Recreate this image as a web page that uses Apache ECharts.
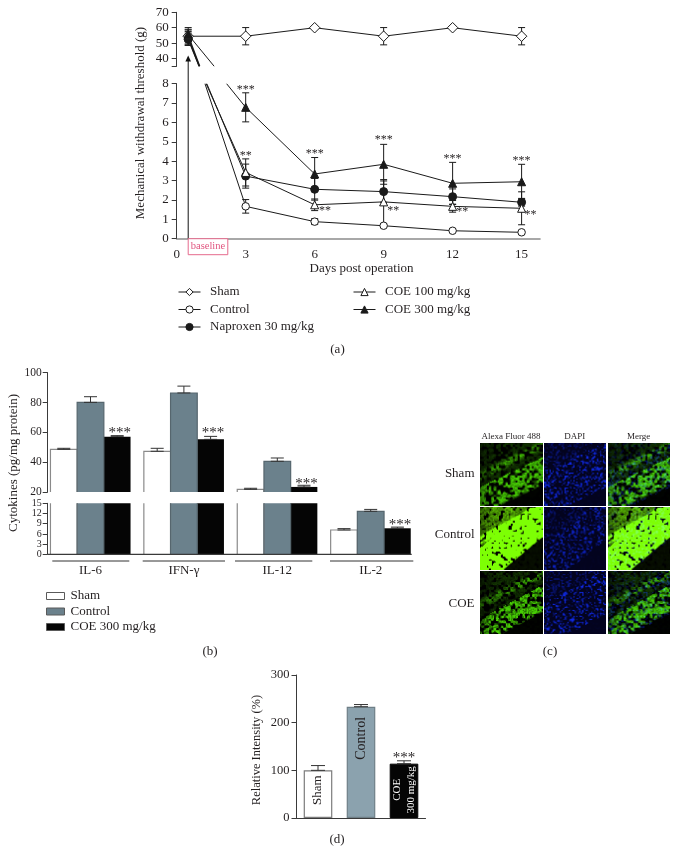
<!DOCTYPE html>
<html><head><meta charset="utf-8">
<style>html,body{margin:0;padding:0;background:#fff}#c{width:680px;height:866px}</style>
<script src="https://cdn.jsdelivr.net/npm/echarts@6/dist/echarts.min.js"></script>
</head><body><div id="c"></div>
<script>
// ---------- data: panel (a) ----------
const aXTicks=[0,3,6,9,12,15];
const aUpperLabels=[40,50,60,70];
const aUpperTicks=[35,40,50,60,70];
const days=[3,6,9,12,15];
const baselineDay=0.5;
const shamVals=[54.5,60,54.5,60,54.5];
const shamErr=[5.6,0,5.6,0,5.6];
const controlVals=[1.67,0.88,0.67,0.41,0.33];
const controlErr=[0.35,0.15,0.05,0.03,0.04];
const naproxenVals=[3.23,2.55,2.43,2.17,1.88];
const naproxenErr=[0.62,0.56,0.55,0.4,0.2];
const coe100Vals=[3.42,1.75,1.9,1.67,1.57];
const coe100Err=[0.7,0.3,1.15,0.3,0.85];
const coe300Vals=[6.78,3.34,3.84,2.86,2.94];
const coe300Err=[0.75,0.85,1.03,1.08,0.9];
const baselineVals={sham:54.5,control:53.5,naproxen:52.5,coe100:55,coe300:55.5};
const baselineErr={sham:5.6,control:4,naproxen:4,coe100:4,coe300:3};
// where each falling line leaves the upper panel (y=35) and enters the lower one (y=8)
const upperExitDay={control:0.98,naproxen:0.98,coe100:1.0,coe300:1.63};
const lowerEntryDay={control:1.23,naproxen:1.31,coe100:1.28,coe300:2.17};
const aUpperFloor=35, aLowerCeil=8;
const starsA=[[3,7.72,'***'],[3,4.3,'**'],[6,4.4,'***'],[9,5.12,'***'],[12,4.14,'***'],[15,4.04,'***'],
 [6.45,1.45,'**'],[9.42,1.45,'**'],[12.42,1.4,'**'],[15.39,1.25,'**']];
const aNames=['Sham','Control','Naproxen 30 mg/kg','COE 100 mg/kg','COE 300 mg/kg'];

// ---------- data: panel (b) ----------
const cytokines=['IL-6','IFN-γ','IL-12','IL-2'];
const bNames=['Sham ','Control ','COE 300 mg/kg '];
const bSham=[48.6,47.3,21.8,7.15];
const bShamTop=[49.3,49.3,22.5,7.55];
const bControl=[80.1,86.4,40.6,12.65];
const bControlTop=[83.9,91,42.8,13.2];
const bCoe=[57.1,55.3,23.4,7.65];
const bCoeTop=[57.8,57.3,24.5,8];
const starsBUpper=[[0,61.6],[1,61.6],[2,27.2]];
const starsBLower=[[3,9.6]];

// ---------- data: panel (d) ----------
const dCats=['Sham','Control','COE\n300 mg/kg'];
const dVals=[100,233.5,114];
const dTop=[110,238,120];
const starsD=[[2,132]];

// ---------- colours / helpers ----------
const INK='#231f20', AX='#3a3a3a', GREY='#6b818c', GREYD='#8ba2ae', FONT='Liberation Serif';
const txt=(s)=>({color:INK,fontFamily:FONT,fontSize:s});
const cap=(xi,yi,data,half,color,w)=>({type:'custom',xAxisIndex:xi,yAxisIndex:yi,silent:true,z:3,
  encode:{x:0,y:[1,2]},data,
  renderItem(p,api){
    const off=api.value(3)||0, a=api.coord([api.value(0),api.value(1)]), b=api.coord([api.value(0),api.value(2)]);
    const x=a[0]+off, st={stroke:color,lineWidth:w};
    return {type:'group',children:[
      {type:'line',shape:{x1:x,y1:a[1],x2:x,y2:b[1]},style:st},
      {type:'line',shape:{x1:x-half,y1:b[1],x2:x+half,y2:b[1]},style:st},
      {type:'line',shape:{x1:x-half,y1:a[1],x2:x+half,y2:a[1]},style:st}]};
  }});
// open-bottom bar outline, clipped by the panel so broken bars stay open at the axis break
const outline=(xi,yi,data,halfW,color,w)=>({type:'custom',xAxisIndex:xi,yAxisIndex:yi,silent:true,z:3,clip:true,
  encode:{x:0,y:[1,2]},data,
  renderItem(p,api){
    const off=api.value(3)||0, a=api.coord([api.value(0),api.value(1)]), b=api.coord([api.value(0),api.value(2)]);
    const x=a[0]+off;
    return {type:'polyline',shape:{points:[[x-halfW,a[1]],[x-halfW,b[1]],[x+halfW,b[1]],[x+halfW,a[1]]]},style:{stroke:color,lineWidth:w,fill:null}};
  }});
const stars=(xi,yi,data,size,off,xoff)=>({type:'custom',xAxisIndex:xi,yAxisIndex:yi,silent:true,z:6,clip:false,
  encode:{x:0,y:1},data:data.map(d=>[d[0],d[1],d[2]||'***']),
  renderItem(p,api){
    const c=api.coord([api.value(0),api.value(1)]);
    return {type:'text',style:{text:String(api.value(2)),x:c[0]+(xoff||0),y:c[1]+(off||0),align:'center',verticalAlign:'middle',
      fill:INK,font:size+'px "'+FONT+'"'}};
  },dimensions:['x','y',{name:'t',type:'ordinal'}]});
const LC='#1a1a1a';
const sym={sham:['diamond',10.5,'#fff'],control:['circle',7.5,'#fff'],naproxen:['circle',8,LC],coe100:['triangle',8,'#fff'],coe300:['triangle',8,LC]};
const lineS=(name,key,xi,yi,data,w)=>({type:'line',name,xAxisIndex:xi,yAxisIndex:yi,data,z:4,
  symbol:sym[key][0],symbolSize:sym[key][1],showAllSymbol:true,
  lineStyle:{color:LC,width:w||1},itemStyle:{color:sym[key][2],borderColor:LC,borderWidth:1}});
const hidden=(p)=>({value:p,symbol:'none'});
const zipErr=(xs,v,e)=>xs.map((x,i)=>[x,v[i]-e[i],v[i]+e[i]]);

const keys=['sham','control','naproxen','coe100','coe300'];
const lowerVals={control:controlVals,naproxen:naproxenVals,coe100:coe100Vals,coe300:coe300Vals};
const lowerErr={control:controlErr,naproxen:naproxenErr,coe100:coe100Err,coe300:coe300Err};

const series=[];
// (a) upper panel
series.push(lineS(aNames[0],'sham',0,0,[[baselineDay,baselineVals.sham]].concat(days.map((d,i)=>[d,shamVals[i]]))));
['control','naproxen','coe100','coe300'].forEach(k=>{
  series.push(lineS(aNames[keys.indexOf(k)],k,0,0,[[baselineDay,baselineVals[k]],hidden([upperExitDay[k],aUpperFloor])],k==='coe300'?1:1.3));
});
keys.forEach(k=>series.push(cap(0,0,[[baselineDay,baselineVals[k]-baselineErr[k],baselineVals[k]+baselineErr[k]]],3.5,LC,1)));
series.push(cap(0,0,zipErr(days,shamVals,shamErr).filter(d=>d[1]!==d[2]),3.5,LC,1));
// (a) lower panel
['control','naproxen','coe100','coe300'].forEach(k=>{
  series.push(lineS(aNames[keys.indexOf(k)],k,1,1,[hidden([lowerEntryDay[k],aLowerCeil])].concat(days.map((d,i)=>[d,lowerVals[k][i]]))));
  series.push(cap(1,1,zipErr(days,lowerVals[k],lowerErr[k]),3.5,LC,1));
});
series.push(stars(1,1,starsA,12,0.5));

// (b)
const bw=26.7;
const bFill=['#fff',GREY,'#050505'];
[bSham,bControl,bCoe].forEach((v,i)=>{
  series.push({type:'bar',name:bNames[i],xAxisIndex:2,yAxisIndex:2,data:v.map((y,j)=>j===3?null:y),barWidth:bw,barGap:0,itemStyle:{color:bFill[i],borderWidth:0},z:2,clip:true});
});
[bSham,bControl,bCoe].forEach((v,i)=>{
  series.push({type:'bar',name:bNames[i],xAxisIndex:3,yAxisIndex:3,data:v,barWidth:bw,barGap:0,itemStyle:{color:bFill[i],borderWidth:0},z:2,clip:true});
});
const outlineColor=['#8a8a8a','#56666e'];
[[bSham,0,20],[bControl,1,20]].forEach(t=>{
  const off=(t[1]-1)*bw;
  series.push(outline(2,2,t[0].map((y,j)=>[j,20,y,off]).filter(r=>r[0]!==3),bw/2,outlineColor[t[1]],1.2));
  series.push(outline(3,3,t[0].map((y,j)=>[j,0,y,off]),bw/2,outlineColor[t[1]],1.2));
});
[[bSham,bShamTop],[bControl,bControlTop],[bCoe,bCoeTop]].forEach((pair,i)=>{
  const off=(i-1)*bw;
  const rows=pair[0].map((y,j)=>[j,y,pair[1][j],off]);
  series.push(cap(2,2,rows.filter(r=>r[0]!==3),6.5,'#333',1));
  series.push(cap(3,3,rows.filter(r=>r[0]===3),6.5,'#333',1));
});
series.push(stars(2,2,starsBUpper,15,3,bw+2.5));
series.push(stars(3,3,starsBLower,15,3,bw+2.5));

// (d)
const dColors=[{color:'#fff',borderColor:'#7c7c7c',borderWidth:1.2},{color:GREYD,borderColor:'#6f7f87',borderWidth:1.2},{color:'#050505',borderColor:'#050505',borderWidth:1}];
const dLabel=[{color:INK,fontSize:13,offset:[4,0]},{color:INK,fontSize:14,offset:[24,0]},{color:'#fff',fontSize:11,lineHeight:14,offset:[1,0]}];
series.push({type:'bar',xAxisIndex:4,yAxisIndex:4,barWidth:28.6,z:2,
  data:dVals.map((v,i)=>({value:v,itemStyle:dColors[i],label:dLabel[i]})),
  label:{show:true,position:'inside',rotate:90,fontFamily:FONT,formatter:p=>dCats[p.dataIndex]}});
series.push(cap(4,4,dVals.map((v,i)=>[i,v,dTop[i],0]),7,'#333',1));
series.push(stars(4,4,starsD,15,3));

// ---------- axes ----------
const axLine={lineStyle:{color:AX,width:1}};
const tick={length:5,lineStyle:{color:AX,width:1}};
const grid=[
 {left:176.7,top:12.3,width:363.3,height:54},
 {left:176.7,top:83.7,width:363.3,height:155},
 {left:43.8,top:372.7,width:373.6,height:119.3},
 {left:43.8,top:503.3,width:373.6,height:51},
 {left:296.5,top:675,width:129,height:143}
];
const xAxis=[
 {gridIndex:0,type:'value',min:0,max:15.8,show:false},
 {gridIndex:1,type:'value',min:0,max:15.8,splitLine:{show:false},
  axisLine:{lineStyle:{color:'#8c8c8c',width:1.6}},axisTick:{show:false,customValues:aXTicks},
  axisLabel:Object.assign(txt(13),{customValues:aXTicks,margin:9})},
 {gridIndex:2,type:'category',data:cytokines,show:false},
 {gridIndex:3,type:'category',data:cytokines,axisTick:{show:false},axisLine:{show:false},
  axisLabel:Object.assign(txt(13),{margin:10})},
 {gridIndex:4,type:'category',data:dCats,axisTick:{show:false},axisLabel:{show:false},axisLine:{lineStyle:{color:AX,width:1.2}}}
];
const yBase={type:'value',splitLine:{show:false},axisLine:Object.assign({show:true},axLine),axisTick:Object.assign({show:true},tick)};
const showAll={showMinLabel:true,showMaxLabel:true,hideOverlap:false};
const yAxis=[
 Object.assign({},yBase,{gridIndex:0,min:35,max:70,axisTick:Object.assign({},yBase.axisTick,{customValues:aUpperTicks}),
   axisLabel:Object.assign(txt(13),showAll,{customValues:aUpperLabels,margin:8})}),
 Object.assign({},yBase,{gridIndex:1,min:0,max:8,interval:1,axisLabel:Object.assign(txt(13),showAll,{margin:8})}),
 Object.assign({},yBase,{gridIndex:2,min:20,max:100,interval:20,offset:-3.9,axisLabel:Object.assign(txt(11.5),showAll,{margin:6})}),
 Object.assign({},yBase,{gridIndex:3,min:0,max:15,interval:3,offset:-3.9,axisLabel:Object.assign(txt(10),showAll,{margin:6,lineHeight:8,hideOverlap:false})}),
 Object.assign({},yBase,{gridIndex:4,min:0,max:300,interval:100,offset:0,axisLabel:Object.assign(txt(12.5),showAll,{margin:7})})
];
const lg=(data,left,top,extra)=>Object.assign({data,left,top,orient:'vertical',selectedMode:false,itemWidth:22,itemHeight:9,itemGap:3.5,padding:0,
  lineStyle:{width:1},itemStyle:{borderWidth:1},
  textStyle:Object.assign(txt(13),{padding:[0,0,0,4.5],lineHeight:14})},extra||{});

const chart=echarts.init(document.getElementById('c'),null,{renderer:'canvas'});
chart.setOption({animation:false,backgroundColor:'#fff',grid,xAxis,yAxis,series,
 legend:[
  lg(aNames.slice(0,3),178,285),
  lg(aNames.slice(3),353,285),
  lg(bNames,46,589,{icon:'rect',itemWidth:18,itemHeight:7,itemGap:1.5,
    itemStyle:{borderWidth:1,borderColor:'#5a5a5a'},textStyle:Object.assign(txt(13),{padding:[0,0,0,1],lineHeight:14})})
 ]});

// ---------- panel (c): micrographs (decorative, not data) ----------
function hash(i,j,s){const v=Math.sin(i*12.9898+j*78.233+s*37.719)*43758.5453;return v-Math.floor(v);}
function noise(x,y,s){const i=Math.floor(x),j=Math.floor(y),f=x-i,g=y-j;
  const a=hash(i,j,s),b=hash(i+1,j,s),c=hash(i,j+1,s),d=hash(i+1,j+1,s);
  const u=f*f*(3-2*f),v=g*g*(3-2*g);return a*(1-u)*(1-v)+b*u*(1-v)+c*(1-u)*v+d*u*v;}
const clamp=(t)=>Math.max(0,Math.min(1,t));
const rowShape=[{x0:0.32,y1:0.68,gain:0.85,band:0.46,floor:0.26,span:0.3},{x0:0.37,y1:0.48,gain:2.4,band:0.66,floor:0.16,span:0.16},{x0:0.35,y1:0.65,gain:0.82,band:0.44,floor:0.26,span:0.3}];
function micro(r,c){
  const W=63,H=63,cv=document.createElement('canvas');cv.width=W;cv.height=H;
  const g=cv.getContext('2d'),im=g.createImageData(W,H),sh=rowShape[r];
  for(let y=0;y<H;y++)for(let x=0;x<W;x++){
    const u=x/W,v=y/H;
    const edge=1+(sh.y1-1)*(u-sh.x0)/(1-sh.x0);
    const d=edge-v;
    let R=0,G=0,B=0;
    const n=noise(x/2.4,y/2.4,r+1),n2=noise(x/1.3,y/1.3,r+7);
    if(c!==1){
      let base=d<0?0.02:clamp(d/0.05)*(d<sh.band?1:0.24);
      const streak=Math.exp(-Math.pow((v-(0.52-0.5*u))/0.09,2));
      if(d>0)base=Math.max(base,streak*0.8);
      if(u<0.25&&d>0)base*=0.6+u*1.6;
      const a=base*clamp((n-sh.floor)/sh.span)*(0.6+0.85*n2);
      const gg=clamp(a*sh.gain);
      G=255*gg*(r===1?1:0.8);R=(r===1?125:70)*gg;B=4*gg;
    }
    if(c!==0){
      const on=d>-0.02?(d>0.7?0.5:1):0.04;
      const sp=Math.pow(clamp((noise(x/1.5,y/1.5,r+20)-0.42)*2.2),1.6)*on*(r===1?0.7:0.85);
      const bb=(c===1?1:0.55);
      B=Math.max(B,Math.min(255,(c===1?30:0)+235*sp*bb));
      G=Math.min(255,G+45*sp*bb);R=Math.min(255,R+14*sp*bb);
      if(c===1){R+=3;G+=3;}
    }
    const k=(y*W+x)*4;im.data[k]=R;im.data[k+1]=G;im.data[k+2]=B;im.data[k+3]=255;
  }
  g.putImageData(im,0,0);return cv;
}
const imgCols=[480,543.7,607.7], imgRows=[442.7,506.7,571], imgW=62.5, imgH=62.8;
const colTitles=['Alexa Fluor 488','DAPI','Merge'], rowTitles=['Sham','Control','COE'];
const rowTitleY=[474,535,603.7];

const T=(text,x,y,size,opt)=>Object.assign({type:'text',x,y,silent:true,z:10,style:Object.assign({text,fill:INK,font:size+'px "'+FONT+'"',align:'center',verticalAlign:'middle'},opt&&opt.style||{})},opt&&opt.el||{});
const L=(x1,y1,x2,y2,c,w)=>({type:'line',silent:true,z:9,shape:{x1,y1,x2,y2},style:{stroke:c||INK,lineWidth:w||1}});
const gfx=[];
gfx.push(T('Mechanical withdrawal threshold (g)',140.5,123,13,{el:{rotation:Math.PI/2}}));
gfx.push(T('Days post operation',361.5,268.5,13));
gfx.push(T('(a)',337.5,350,13),T('(b)',210,652,13),T('(c)',550,652,13),T('(d)',337,840,13));
gfx.push(T('Cytokines (pg/mg protein)',13.5,463,13,{el:{rotation:Math.PI/2}}));
gfx.push(T('Relative Intensity (%)',257,750,12.5,{el:{rotation:Math.PI/2}}));
// arrow + baseline box, positioned through the scales
const ax=chart.convertToPixel({xAxisIndex:1},baselineDay), ay0=chart.convertToPixel({yAxisIndex:1},0), ayTop=chart.convertToPixel({yAxisIndex:0},40);
gfx.push(L(ax,ay0,ax,ayTop-1,'#111',1));
gfx.push({type:'polygon',silent:true,z:9,shape:{points:[[ax,ayTop-3],[ax-2.8,ayTop+3],[ax+2.8,ayTop+3]]},style:{fill:'#111'}});
gfx.push({type:'rect',silent:true,z:9,shape:{x:ax,y:ay0,width:39.6,height:16},style:{fill:'#fff',stroke:'#e56a8d',lineWidth:1}});
gfx.push(T('baseline',ax+19.8,ay0+8,10.5,{style:{fill:'#e0557f'}}));
// (b) baseline and group rules
gfx.push(L(47.7,554.3,411.7,554.3,AX,1.2));
[[52.3,129.3],[142.7,225],[235,312.3],[330,413.3]].forEach(p=>gfx.push(L(p[0],561,p[1],561,'#333',1)));
// (c)
imgRows.forEach((y,r)=>imgCols.forEach((x,c)=>{
  gfx.push({type:'image',silent:true,z:8,style:{image:micro(r,c),x,y,width:imgW,height:imgH}});
}));
colTitles.forEach((t,c)=>gfx.push(T(t,imgCols[c]+31,436.3,9)));
rowTitles.forEach((t,r)=>gfx.push(T(t,474.5,rowTitleY[r],13,{style:{align:'right'}})));
chart.setOption({graphic:gfx});
</script></body></html>
